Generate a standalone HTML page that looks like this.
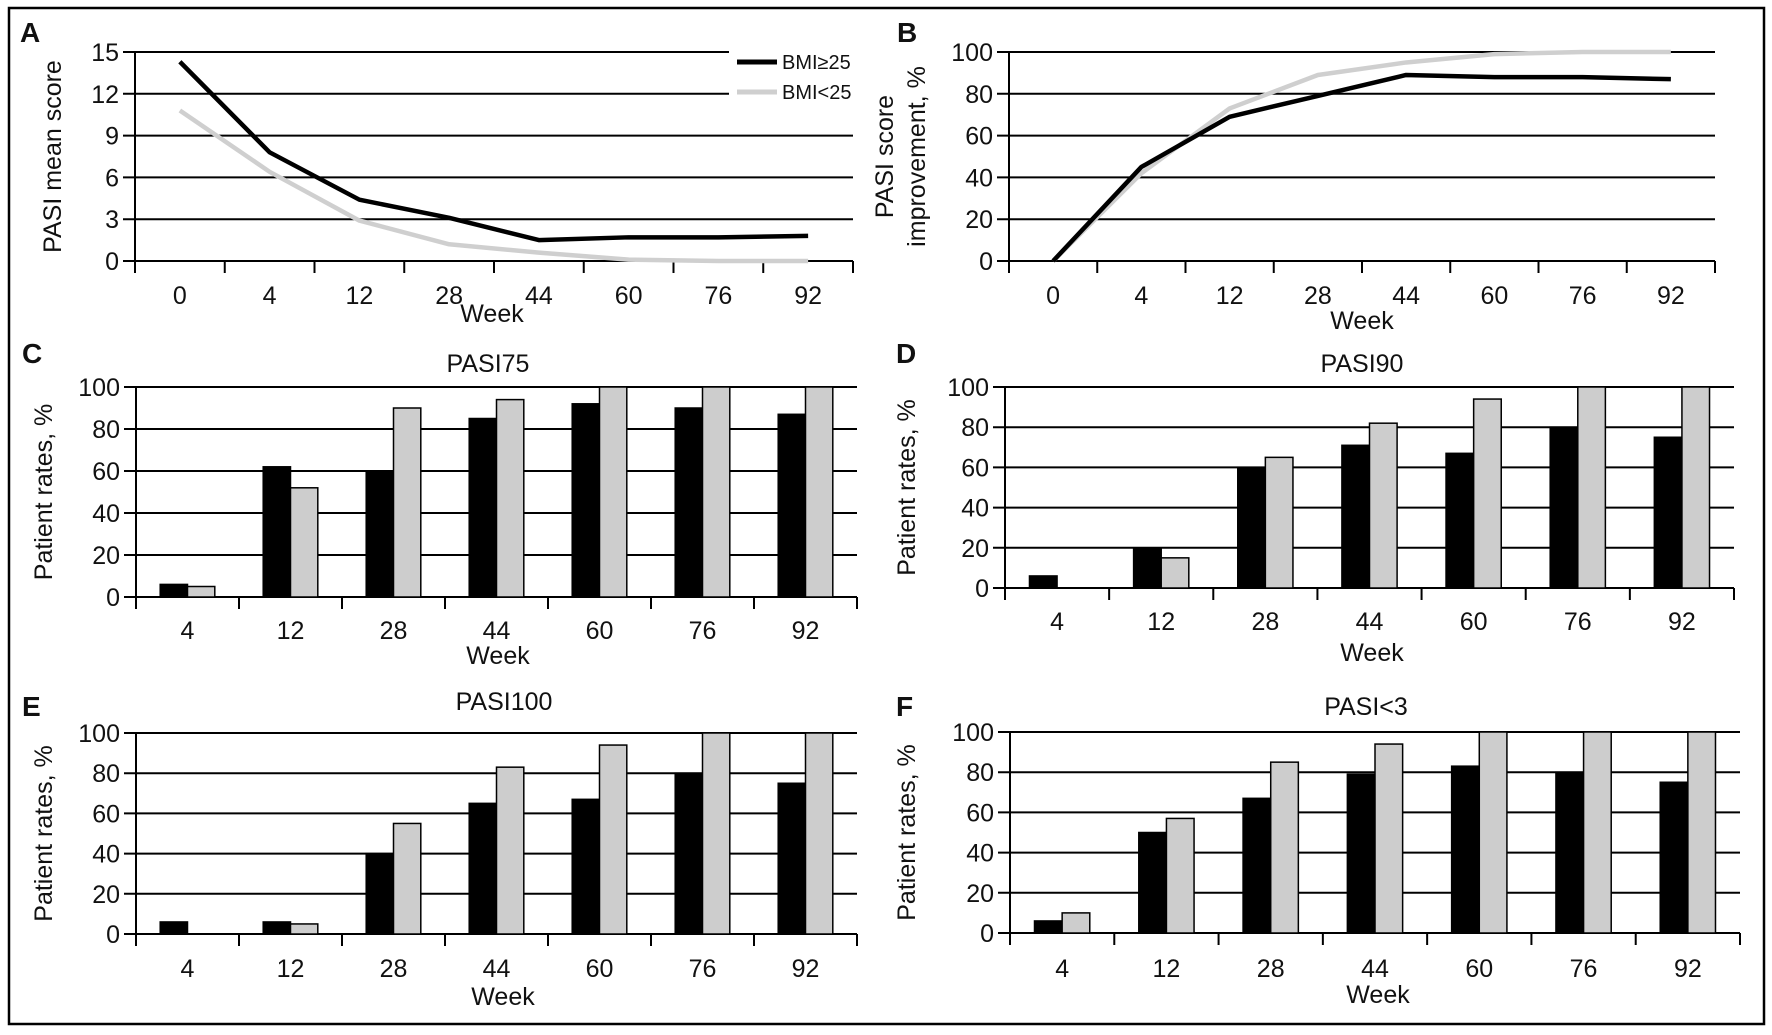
<!DOCTYPE html>
<html><head><meta charset="utf-8"><style>
body{margin:0;background:#fff}
svg{display:block}
text{font-family:"Liberation Sans Narrow","Liberation Sans",sans-serif;fill:#111}
.tk{font-size:25px}
.yl{font-family:"Liberation Sans",sans-serif;font-size:25px}
.pl{font-family:"Liberation Sans",sans-serif;font-size:28px;font-weight:bold}
</style></head><body>
<svg id="fig" width="1772" height="1035" viewBox="0 0 1772 1035" xmlns="http://www.w3.org/2000/svg">
<rect x="9" y="8" width="1755" height="1016" fill="none" stroke="#000" stroke-width="2.5"/>
</svg>
<script>
const weeksLine = ["0","4","12","28","44","60","76","92"];
const weeksBar = ["4","12","28","44","60","76","92"];
const aHigh = [14.3,7.8,4.4,3.1,1.5,1.7,1.7,1.8];
const aLow = [10.8,6.4,2.9,1.2,0.6,0.1,0,0];
const bHigh = [0,45,69,79,89,88,88,87];
const bLow = [0,42,73,89,95,99,100,100];
const cHigh = [6,62,60,85,92,90,87];
const cLow = [5,52,90,94,100,100,100];
const dHigh = [6,20,60,71,67,80,75];
const dLow = [0,15,65,82,94,100,100];
const eHigh = [6,6,40,65,67,80,75];
const eLow = [0,5,55,83,94,100,100];
const fHigh = [6,50,67,79,83,80,75];
const fLow = [10,57,85,94,100,100,100];
const ticksA = [0,3,6,9,12,15];
const ticksPct = [0,20,40,60,80,100];

const NS="http://www.w3.org/2000/svg";
const svg=document.getElementById('fig');
function el(tag,attrs,parent,txt){const e=document.createElementNS(NS,tag);for(const k in attrs)e.setAttribute(k,attrs[k]);if(txt!==undefined)e.textContent=txt;(parent||svg).appendChild(e);return e;}

function panel(o){
  const g=el('g',{});
  
  
  const n=o.cats.length, bw=(o.x1-o.x0)/n;
  const ymax=o.ticks[o.ticks.length-1];
  const Y=v=>o.y0-(v/ymax)*(o.y0-o.y1);
  const X=i=>o.x0+bw*(i+0.5);
  o.ticks.forEach(t=>{
    const gx2=(o.gridStop&&t>=o.gridStopMin)?o.gridStop:o.x1;
    const ln=el('line',{x1:o.x0-12,x2:gx2,y1:Y(t),y2:Y(t),stroke:'#000','stroke-width':2},g);
    
    
    const tx=el('text',{x:o.x0-16,y:Y(t)+9,'text-anchor':'end',class:'tk'},g,String(t));
    
    
  });
  const ax=el('line',{x1:o.x0,x2:o.x0,y1:Y(ymax),y2:o.y0+12,stroke:'#000','stroke-width':2},g);
  
  
  for(let i=0;i<=n;i++){
    const tk=el('line',{x1:o.x0+bw*i,x2:o.x0+bw*i,y1:o.y0,y2:o.y0+12,stroke:'#000','stroke-width':2},g);
    
    
  }
  o.cats.forEach((c,i)=>{
    const tx=el('text',{x:X(i),y:o.tickY,'text-anchor':'middle',class:'tk'},g,c);
    
    
  });
  const wk=el('text',{x:o.weekX,y:o.weekY,'text-anchor':'middle',class:'tk'},g,'Week');
  
  
  o.ylab.forEach((s,k)=>{
    const yx=o.ylabX+k*32;
    const t=el('text',{x:yx,y:(o.y0+Y(ymax))/2,'text-anchor':'middle',class:'yl',transform:`rotate(-90 ${yx} ${(o.y0+Y(ymax))/2})`},g,s);
    
    
  });
  const pl=el('text',{x:o.lx,y:o.ly,class:'pl'},g,o.id);
  
  
  if(o.title){
    const tt=el('text',{x:o.titleX,y:o.titleY,'text-anchor':'middle',class:'tk'},g,o.title);
    
    
  }
  if(o.type==='line'){
    [[o.low,'#cfcfcf','series-bmi-lt-25'],[o.high,'#000','series-bmi-ge-25']].forEach(([d,col,nm])=>{
      const p=el('polyline',{points:d.map((v,i)=>X(i)+','+Y(v)).join(' '),fill:'none',stroke:col,'stroke-width':4.5,'stroke-linejoin':'round'},g);
      
      
    });
  } else {
    const w=bw*0.265, off=bw*0.235;
    o.high.forEach((v,i)=>{
      const bx=o.x0+bw*i+off;
      const r=el('rect',{x:bx,y:Y(v),width:w,height:o.y0-Y(v),fill:'#000',stroke:'#000','stroke-width':1.5},g);
      
      
      const v2=o.low[i];
      if(v2>0){
        const r2=el('rect',{x:bx+w,y:Y(v2),width:w,height:o.y0-Y(v2),fill:'#cdcdcd',stroke:'#000','stroke-width':1.5},g);
        
        
      }
    });
  }
}

panel({id:'A',type:'line',cats:weeksLine,high:aHigh,low:aLow,ticks:ticksA,x0:135,x1:853,y0:261,y1:52,gridStop:729,gridStopMin:12,tickY:304,weekX:492,weekY:322,ylab:['PASI mean score'],ylabX:61,lx:20,ly:42});
panel({id:'B',type:'line',cats:weeksLine,high:bHigh,low:bLow,ticks:ticksPct,x0:1009,x1:1715,y0:261,y1:52,tickY:304,weekX:1362,weekY:329,ylab:['PASI score','improvement, %'],ylabX:893,lx:897,ly:42});
panel({id:'C',type:'bar',cats:weeksBar,high:cHigh,low:cLow,ticks:ticksPct,x0:136,x1:857,y0:597,y1:387,tickY:639,weekX:498,weekY:664,ylab:['Patient rates, %'],ylabX:52,lx:22,ly:363,title:'PASI75',titleX:488,titleY:372});
panel({id:'D',type:'bar',cats:weeksBar,high:dHigh,low:dLow,ticks:ticksPct,x0:1005,x1:1734,y0:588,y1:387,tickY:630,weekX:1372,weekY:661,ylab:['Patient rates, %'],ylabX:915,lx:896,ly:363,title:'PASI90',titleX:1362,titleY:372});
panel({id:'E',type:'bar',cats:weeksBar,high:eHigh,low:eLow,ticks:ticksPct,x0:136,x1:857,y0:934,y1:733,tickY:977,weekX:503,weekY:1005,ylab:['Patient rates, %'],ylabX:52,lx:22,ly:716,title:'PASI100',titleX:504,titleY:710});
panel({id:'F',type:'bar',cats:weeksBar,high:fHigh,low:fLow,ticks:ticksPct,x0:1010,x1:1740,y0:933,y1:732,tickY:977,weekX:1378,weekY:1003,ylab:['Patient rates, %'],ylabX:915,lx:896,ly:716,title:'PASI<3',titleX:1366,titleY:715});

const lg=el('g',{});


[['BMI≥25','#000',62],['BMI<25','#cfcfcf',92]].forEach(([t,c,y])=>{
  const l=el('line',{x1:737,x2:777,y1:y,y2:y,stroke:c,'stroke-width':5},lg);
  
  
  const tx=el('text',{x:782,y:y+7,style:'font-size:20px'},lg,t);
  
  
});
</script>
</body></html>
